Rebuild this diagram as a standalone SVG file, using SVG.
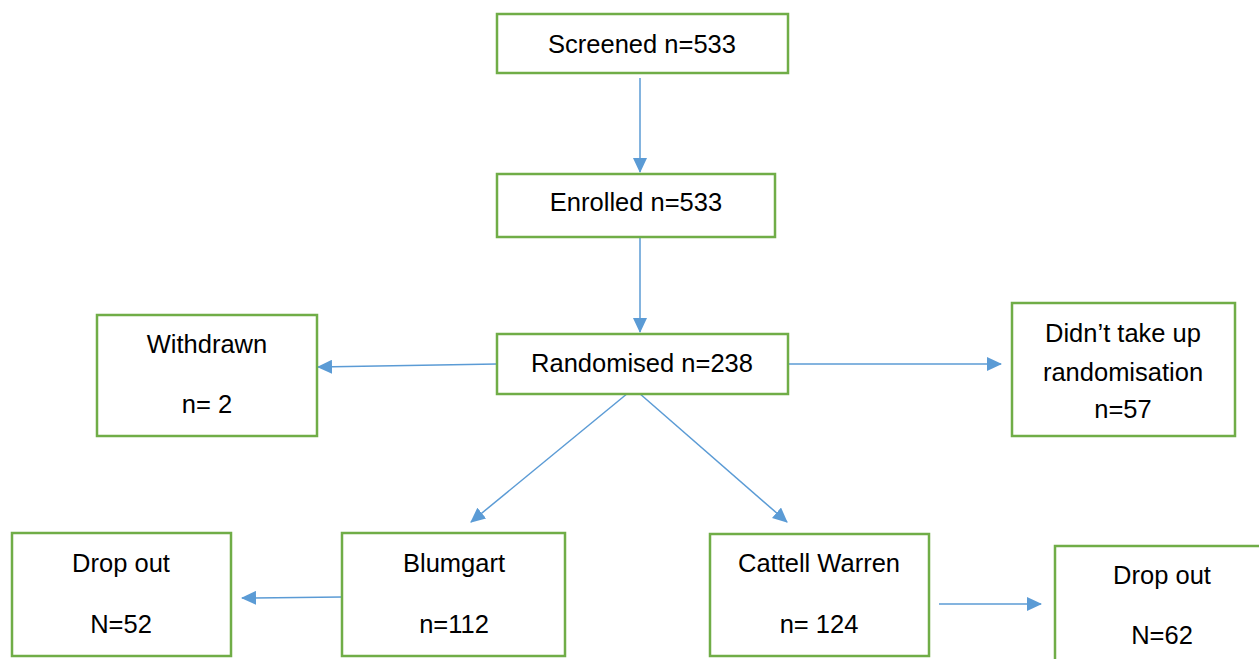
<svg xmlns="http://www.w3.org/2000/svg" width="1259" height="659" viewBox="0 0 1259 659">
<defs>
<style>
.box{fill:#fff;stroke:#70AD47;stroke-width:2.5}
.t{font-family:"Liberation Sans",Arial,sans-serif;font-size:25.5px;fill:#000;text-anchor:middle}
.c{stroke:#5B9BD5;stroke-width:1.5;fill:none;marker-end:url(#ah)}
</style>
<marker id="ah" viewBox="0 0 15 14" refX="14" refY="7" markerWidth="15" markerHeight="14" markerUnits="userSpaceOnUse" orient="auto">
<path d="M0,0 L15,7 L0,14 Z" fill="#5B9BD5"/>
</marker>
</defs>
<rect width="1259" height="659" fill="#fff"/>
<g id="connectors">
<line class="c" x1="640" y1="78" x2="640" y2="172"/>
<line class="c" x1="640" y1="238" x2="640" y2="332"/>
<line class="c" x1="497" y1="364" x2="318" y2="367"/>
<line class="c" x1="788" y1="364" x2="1001" y2="364"/>
<line class="c" x1="628" y1="393" x2="471" y2="522"/>
<line class="c" x1="639" y1="393" x2="787" y2="522"/>
<line class="c" x1="342" y1="597" x2="242" y2="598"/>
<line class="c" x1="939" y1="604" x2="1041" y2="604"/>
</g>
<g id="screened">
<rect class="box" x="497" y="14" width="291" height="59"/>
<text class="t" x="642" y="53">Screened n=533</text>
</g>
<g id="enrolled">
<rect class="box" x="497" y="174" width="278" height="63"/>
<text class="t" x="636" y="211">Enrolled n=533</text>
</g>
<g id="randomised">
<rect class="box" x="497" y="334" width="291" height="60"/>
<text class="t" x="642" y="372">Randomised n=238</text>
</g>
<g id="withdrawn">
<rect class="box" x="97" y="315" width="220" height="121"/>
<text class="t" x="207" y="353">Withdrawn</text>
<text class="t" x="207" y="413">n= 2</text>
</g>
<g id="didnt">
<rect class="box" x="1012" y="303" width="223" height="133"/>
<text class="t" x="1123" y="342">Didn’t take up</text>
<text class="t" x="1123" y="381">randomisation</text>
<text class="t" x="1123" y="418">n=57</text>
</g>
<g id="dropout-left">
<rect class="box" x="12" y="533" width="219" height="123"/>
<text class="t" x="121" y="572">Drop out</text>
<text class="t" x="121" y="633">N=52</text>
</g>
<g id="blumgart">
<rect class="box" x="342" y="533" width="223" height="123"/>
<text class="t" x="454" y="572">Blumgart</text>
<text class="t" x="454" y="633">n=112</text>
</g>
<g id="cattell">
<rect class="box" x="710" y="534" width="219" height="122"/>
<text class="t" x="819" y="572">Cattell Warren</text>
<text class="t" x="819" y="633">n= 124</text>
</g>
<g id="dropout-right">
<rect class="box" x="1055" y="546" width="215" height="130"/>
<text class="t" x="1162" y="584">Drop out</text>
<text class="t" x="1162" y="644">N=62</text>
</g>
</svg>
